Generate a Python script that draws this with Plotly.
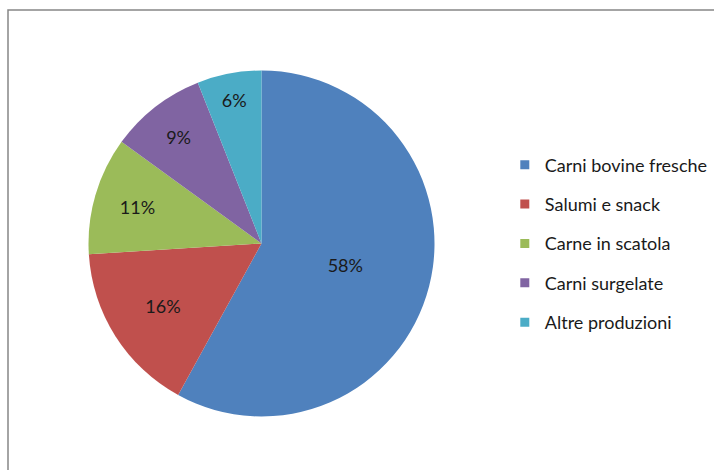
import plotly.graph_objects as go

labels = ["Carni bovine fresche", "Salumi e snack", "Carne in scatola", "Carni surgelate", "Altre produzioni"]
values = [58, 16, 11, 9, 6]
colors = ["#4F81BD", "#C0504D", "#9BBB59", "#8064A2", "#4BACC6"]

W, H = 714, 470
cx, cy, r = 261.5, 243.5, 173

fig = go.Figure()
fig.add_trace(go.Pie(
    labels=labels, values=values, sort=False, direction="clockwise", rotation=0,
    marker=dict(colors=colors, line=dict(width=0)),
    texttemplate="%{percent:.0%}", textposition="inside", insidetextorientation="horizontal",
    textfont=dict(family="Lato", size=18, color="#1a1a1a"),
    showlegend=False, hoverinfo="label+percent",
    domain=dict(x=[(cx - r) / W, (cx + r) / W], y=[(H - cy - r) / H, (H - cy + r) / H]),
))
for lab, col in zip(labels, colors):
    fig.add_trace(go.Scatter(
        x=[None], y=[None], mode="markers", name=lab, legendgroup=lab,
        marker=dict(symbol="square", size=9, color=col, line=dict(width=0)),
    ))

fig.update_layout(
    width=W, height=H, margin=dict(l=0, r=0, t=0, b=0),
    paper_bgcolor="white", plot_bgcolor="white",
    xaxis=dict(visible=False), yaxis=dict(visible=False),
    font=dict(family="Lato", size=18, color="#1a1a1a"),
    legend=dict(x=0.707, y=0.482, xanchor="left", yanchor="middle", traceorder="grouped",
                tracegroupgap=13, itemwidth=30, font=dict(size=18)),
    shapes=[dict(type="rect", xref="paper", yref="paper",
                 x0=8 / W, x1=1.05, y0=-0.05, y1=(H - 10) / H,
                 line=dict(color="#868686", width=1.5), fillcolor="rgba(0,0,0,0)")],
)
fig.write_html("out.html")
